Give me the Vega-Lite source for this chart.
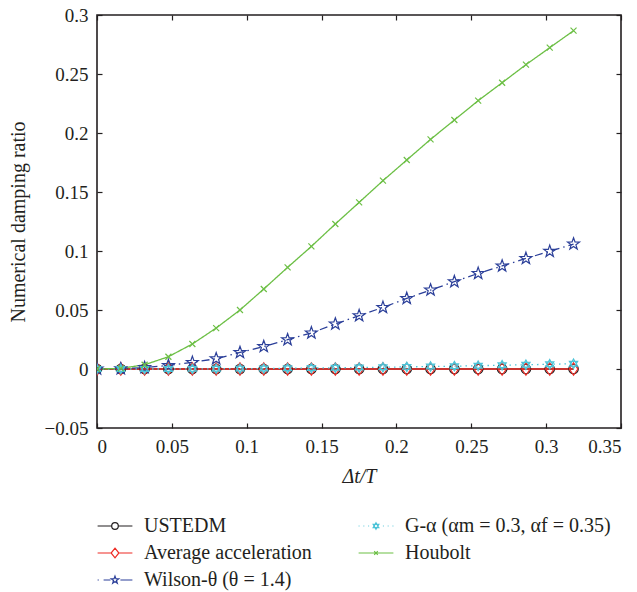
{
  "$schema": "https://vega.github.io/schema/vega-lite/v6.json",
  "width": 524,
  "height": 413,
  "autosize": {"type": "none"},
  "padding": {"left": 97, "top": 15, "right": 16, "bottom": 164},
  "background": "white",
  "config": {
    "font": "Liberation Serif, serif",
    "view": {"stroke": "#231f20", "strokeWidth": 1.6},
    "text": {"font": "Liberation Serif, serif"},
    "axis": {
      "labelFont": "Liberation Serif, serif",
      "labelFontSize": 19,
      "labelColor": "#231f20",
      "tickColor": "#231f20",
      "tickSize": -5,
      "tickWidth": 1.2,
      "labelPadding": 14,
      "domain": false,
      "grid": false,
      "titleFont": "Liberation Serif, serif",
      "titleFontSize": 20,
      "titleFontWeight": "normal",
      "titleColor": "#231f20"
    }
  },
  "data": {
    "values": [
      {"x": 0, "U": 0, "A": 0, "W": 0, "G": 0, "H": 0},
      {"x": 0.0159, "U": 0, "A": 0, "W": 0.0002, "G": 0, "H": 0.0005},
      {"x": 0.0318, "U": 0, "A": 0, "W": 0.0012, "G": 0, "H": 0.0036},
      {"x": 0.0477, "U": 0, "A": 0, "W": 0.003, "G": 0, "H": 0.0104},
      {"x": 0.0637, "U": 0, "A": 0, "W": 0.0056, "G": 0.0001, "H": 0.0212},
      {"x": 0.0796, "U": 0, "A": 0, "W": 0.0087, "G": 0.0002, "H": 0.0347},
      {"x": 0.0955, "U": 0, "A": 0, "W": 0.014, "G": 0.0003, "H": 0.05},
      {"x": 0.1114, "U": 0, "A": 0, "W": 0.019, "G": 0.0004, "H": 0.0678},
      {"x": 0.1273, "U": 0, "A": 0, "W": 0.0248, "G": 0.0006, "H": 0.0861},
      {"x": 0.1432, "U": 0, "A": 0, "W": 0.0306, "G": 0.0008, "H": 0.1039},
      {"x": 0.1592, "U": 0, "A": 0, "W": 0.0381, "G": 0.001, "H": 0.1229},
      {"x": 0.1751, "U": 0, "A": 0, "W": 0.0452, "G": 0.0012, "H": 0.1412},
      {"x": 0.191, "U": 0, "A": 0, "W": 0.0522, "G": 0.0015, "H": 0.1596},
      {"x": 0.2069, "U": 0, "A": 0, "W": 0.0598, "G": 0.0018, "H": 0.1771},
      {"x": 0.2228, "U": 0, "A": 0, "W": 0.0669, "G": 0.0021, "H": 0.1946},
      {"x": 0.2387, "U": 0, "A": 0, "W": 0.074, "G": 0.0024, "H": 0.211},
      {"x": 0.2546, "U": 0, "A": 0, "W": 0.081, "G": 0.0028, "H": 0.2274},
      {"x": 0.2706, "U": 0, "A": 0, "W": 0.0873, "G": 0.0032, "H": 0.2426},
      {"x": 0.2865, "U": 0, "A": 0, "W": 0.0937, "G": 0.0036, "H": 0.2579},
      {"x": 0.3024, "U": 0, "A": 0, "W": 0.0997, "G": 0.004, "H": 0.2723},
      {"x": 0.3183, "U": 0, "A": 0, "W": 0.1059, "G": 0.0045, "H": 0.2867}
    ]
  },
  "transform": [{"fold": ["U", "A", "W", "G", "H"], "as": ["method", "y"]}],
  "resolve": {"axis": {"x": "independent", "y": "independent"}},
  "layer": [
    {
      "mark": {"type": "line", "strokeWidth": 1.3, "clip": true},
      "encoding": {
        "x": {
          "field": "x", "type": "quantitative",
          "scale": {"domain": [0, 0.35], "nice": false, "zero": false},
          "axis": {"orient": "bottom", "values": [0, 0.05, 0.1, 0.15, 0.2, 0.25, 0.3, 0.35], "format": "~g", "title": "Δt/T", "titleFontStyle": "italic", "titlePadding": 10}
        },
        "y": {
          "field": "y", "type": "quantitative",
          "scale": {"domain": [-0.05, 0.3], "nice": false, "zero": false},
          "axis": {"orient": "left", "values": [-0.05, 0, 0.05, 0.1, 0.15, 0.2, 0.25, 0.3], "format": "~g", "title": "Numerical damping ratio", "titlePadding": 16}
        },
        "color": {
          "field": "method", "type": "nominal",
          "scale": {"domain": ["U", "A", "W", "G", "H"], "range": ["#231f20", "#ee2b24", "#2b3f99", "#4dc4d8", "#6cbf45"]},
          "legend": {
            "orient": "none",
            "legendX": 8,
            "legendY": 501,
            "columns": 2,
            "title": null,
            "padding": 0,
            "labelFont": "Liberation Serif, serif",
            "labelFontSize": 20,
            "labelColor": "#231f20",
            "labelLimit": 400,
            "symbolSize": 36,
            "labelOffset": 19,
            "columnPadding": 44,
            "rowPadding": 7,
            "labelExpr": "datum.value === 'U' ? 'USTEDM' : datum.value === 'A' ? 'Average acceleration' : datum.value === 'W' ? 'Wilson-θ (θ = 1.4)' : datum.value === 'G' ? 'G-α (αm = 0.3, αf = 0.35)' : 'Houbolt'",
            "encode": {
              "symbols": {
                "update": {
                  "shape": {"signal": "datum.value === 'U' ? 'M-5.8,0L-1.1,0M1.1,0L5.8,0M1.1,0A1.1,1.1,0,1,1,-1.1,0A1.1,1.1,0,1,1,1.1,0' : datum.value === 'A' ? 'M-5.8,0L-1.3,0M1.3,0L5.8,0M0,-1.6L1.3,0L0,1.6L-1.3,0Z' : datum.value === 'W' ? 'M-5.8,0L-5.4,0M-3.8,0L-1.5,0M1.8,0L5.8,0M0,-1.3L0.306,-0.421L1.236,-0.402L0.494,0.161L0.764,1.052L0,0.52L-0.764,1.052L-0.494,0.161L-1.236,-0.402L-0.306,-0.421Z' : datum.value === 'G' ? 'M-5.8,0L-5.5,0M-4.2,0L-3.9,0M-2.6,0L-2.3,0M2.3,0L2.6,0M3.9,0L4.2,0M5.5,0L5.8,0M0,-1.1L0.95,0.55L-0.95,0.55ZM0,1.1L0.95,-0.55L-0.95,-0.55Z' : 'M-5.8,0L5.8,0M-0.6,-0.6L0.6,0.6M-0.6,0.6L0.6,-0.6'"},
                  "fill": {"value": "transparent"},
                  "strokeWidth": {"value": 1.2},
                  "strokeDash": {"value": []},
                  "opacity": {"value": 1}
                }
              }
            }
          }
        },
        "strokeDash": {
          "field": "method", "type": "nominal",
          "scale": {"domain": ["H", "G", "W", "A", "U"], "range": [[1, 0], [1.5, 4], [8, 4, 1.5, 4], [1, 0], [1, 0]]},
          "legend": null
        }
      }
    },
    {
      "mark": {"type": "point", "filled": false, "strokeWidth": 1.2, "opacity": 1, "size": 100, "clip": true},
      "encoding": {
        "x": {
          "field": "x", "type": "quantitative",
          "scale": {"domain": [0, 0.35], "nice": false, "zero": false},
          "axis": {"orient": "top", "values": [0, 0.05, 0.1, 0.15, 0.2, 0.25, 0.3, 0.35], "labels": false, "title": null}
        },
        "y": {
          "field": "y", "type": "quantitative",
          "scale": {"domain": [-0.05, 0.3], "nice": false, "zero": false},
          "axis": {"orient": "right", "values": [-0.05, 0, 0.05, 0.1, 0.15, 0.2, 0.25, 0.3], "labels": false, "title": null}
        },
        "color": {
          "field": "method", "type": "nominal",
          "scale": {"domain": ["U", "A", "W", "G", "H"], "range": ["#231f20", "#ee2b24", "#2b3f99", "#4dc4d8", "#6cbf45"]}
        },
        "shape": {
          "field": "method", "type": "nominal",
          "scale": {"domain": ["H", "G", "W", "A", "U"], "range": ["M-0.6,-0.6L0.6,0.6M-0.6,0.6L0.6,-0.6", "M0,-0.95L0.823,0.475L-0.823,0.475ZM0,0.95L0.823,-0.475L-0.823,-0.475Z", "M0,-1.25L0.294,-0.405L1.189,-0.386L0.475,0.155L0.735,1.011L0,0.5L-0.735,1.011L-0.475,0.155L-1.189,-0.386L-0.294,-0.405Z", "M0,-1.25L0.85,0L0,1.25L-0.85,0Z", "M0.95,0A0.95,0.95,0,1,1,-0.95,0A0.95,0.95,0,1,1,0.95,0Z"]},
          "legend": null
        }
      }
    }
  ]
}
